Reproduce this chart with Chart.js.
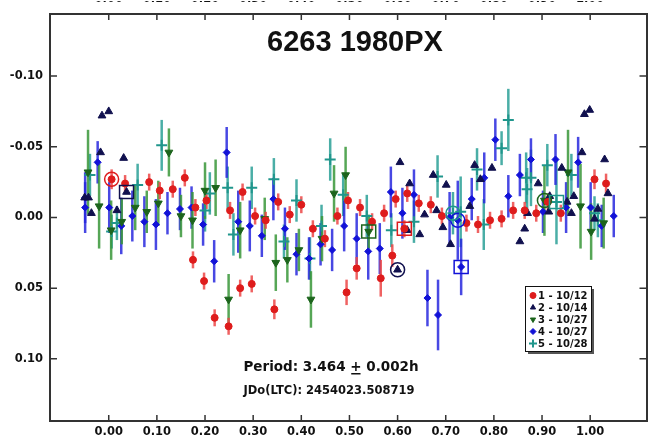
<!DOCTYPE html>
<html>
<head>
<meta charset="utf-8">
<script src="https://cdn.jsdelivr.net/npm/chart.js@4/dist/chart.umd.min.js"></script>
<style>
  body { margin: 0; background: #fff; }
  canvas { display: block; }
</style>
</head>
<body>
<canvas id="lightCurve" width="654" height="444"></canvas>
<script>
// tick labels
const xTicks = [0, 0.1, 0.2, 0.3, 0.4, 0.5, 0.6, 0.7, 0.8, 0.9, 1.0];
const yTicks = [-0.10, -0.05, 0, 0.05, 0.10];
const sessionNames = ['1 - 10/12', '2 - 10/14', '3 - 10/27', '4 - 10/27', '5 - 10/28'];

// session 1 - 10/12
const phase1 = [0.006, 0.034, 0.084, 0.106, 0.133, 0.158, 0.175, 0.180, 0.198, 0.203, 0.220, 0.249, 0.252, 0.273, 0.278, 0.297, 0.304, 0.326, 0.344, 0.352, 0.376, 0.400, 0.424, 0.449, 0.475, 0.494, 0.497, 0.515, 0.522, 0.547, 0.565, 0.572, 0.589, 0.596, 0.614, 0.620, 0.644, 0.669, 0.692, 0.743, 0.767, 0.792, 0.816, 0.840, 0.864, 0.888, 0.912, 0.939, 1.009, 1.033];
const mag1 = [-0.027, -0.024, -0.025, -0.019, -0.020, -0.028, 0.030, -0.007, 0.045, -0.012, 0.071, 0.077, -0.005, 0.050, -0.018, 0.047, -0.001, 0.002, 0.065, -0.011, -0.002, -0.009, 0.008, 0.015, -0.001, 0.053, -0.012, 0.036, -0.007, 0.003, 0.043, -0.003, 0.027, -0.013, 0.008, -0.017, -0.010, -0.009, -0.001, 0.004, 0.005, 0.002, 0.001, -0.005, -0.005, -0.003, -0.011, -0.003, -0.027, -0.024];
const err1 = [0.007, 0.006, 0.006, 0.006, 0.006, 0.006, 0.006, 0.006, 0.006, 0.006, 0.006, 0.006, 0.006, 0.006, 0.006, 0.006, 0.006, 0.006, 0.007, 0.006, 0.006, 0.006, 0.006, 0.006, 0.006, 0.009, 0.006, 0.008, 0.006, 0.006, 0.013, 0.006, 0.008, 0.006, 0.006, 0.006, 0.006, 0.006, 0.006, 0.006, 0.006, 0.006, 0.006, 0.006, 0.006, 0.006, 0.006, 0.006, 0.007, 0.007];

// session 2 - 10/14
const phase2 = [-0.050, -0.042, -0.036, -0.017, -0.014, 0.000, 0.017, 0.031, 0.037, 0.600, 0.605, 0.620, 0.625, 0.646, 0.656, 0.674, 0.681, 0.694, 0.701, 0.710, 0.750, 0.760, 0.772, 0.796, 0.854, 0.864, 0.870, 0.892, 0.914, 0.916, 0.941, 0.952, 0.961, 0.966, 0.983, 0.988, 0.999, 1.009, 1.016, 1.030, 1.037];
const mag2 = [-0.014, -0.014, -0.003, -0.046, -0.072, -0.075, -0.005, -0.042, -0.018, 0.037, -0.039, 0.009, -0.024, 0.012, -0.002, -0.030, -0.005, 0.007, -0.023, 0.019, -0.008, -0.037, -0.027, -0.035, 0.017, 0.008, -0.003, -0.024, -0.004, -0.015, -0.035, -0.011, -0.003, -0.015, -0.046, -0.073, -0.076, 0.001, -0.006, -0.041, -0.017];
const err2 = phase2.map(() => 0);

// session 3 - 10/27
const phase3 = [-0.043, -0.020, 0.005, 0.027, 0.055, 0.079, 0.103, 0.125, 0.150, 0.174, 0.200, 0.222, 0.249, 0.273, 0.324, 0.347, 0.371, 0.395, 0.420, 0.443, 0.468, 0.492, 0.540, 0.905, 0.954, 0.980, 1.002, 1.028];
const mag3 = [-0.032, -0.008, 0.009, 0.003, -0.007, -0.004, -0.010, -0.046, -0.001, 0.002, -0.019, -0.021, 0.058, 0.009, 0.001, 0.032, 0.030, 0.023, 0.058, 0.015, -0.017, -0.030, 0.010, -0.012, -0.032, -0.008, 0.010, 0.004];
const err3 = [0.030, 0.030, 0.021, 0.016, 0.016, 0.015, 0.016, 0.017, 0.015, 0.020, 0.020, 0.020, 0.018, 0.020, 0.015, 0.020, 0.016, 0.015, 0.020, 0.016, 0.020, 0.020, 0.012, 0.025, 0.030, 0.030, 0.020, 0.018];

// session 4 - 10/27
const phase4 = [-0.049, -0.049, -0.023, 0.001, 0.026, 0.049, 0.074, 0.098, 0.122, 0.148, 0.172, 0.196, 0.219, 0.245, 0.269, 0.293, 0.318, 0.342, 0.366, 0.390, 0.416, 0.440, 0.464, 0.489, 0.515, 0.539, 0.563, 0.586, 0.610, 0.634, 0.662, 0.684, 0.708, 0.725, 0.732, 0.754, 0.780, 0.803, 0.830, 0.854, 0.877, 0.902, 0.928, 0.950, 0.975, 1.001, 1.024, 1.049];
const mag4 = [-0.014, -0.007, -0.039, -0.007, 0.006, -0.001, 0.003, 0.005, -0.003, -0.006, -0.007, 0.005, 0.031, -0.046, 0.003, 0.006, 0.013, -0.013, 0.008, 0.026, 0.029, 0.019, 0.023, 0.006, 0.015, 0.024, 0.022, -0.018, -0.003, -0.016, 0.057, 0.069, 0.000, 0.002, 0.035, -0.013, -0.028, -0.055, -0.015, -0.030, -0.041, -0.004, -0.041, -0.007, -0.039, -0.007, 0.006, -0.001];
const err4 = [0.018, 0.018, 0.015, 0.018, 0.020, 0.018, 0.018, 0.018, 0.015, 0.015, 0.015, 0.015, 0.015, 0.018, 0.022, 0.018, 0.015, 0.015, 0.015, 0.015, 0.015, 0.015, 0.015, 0.018, 0.018, 0.020, 0.018, 0.018, 0.018, 0.018, 0.020, 0.025, 0.018, 0.028, 0.020, 0.015, 0.018, 0.015, 0.015, 0.015, 0.015, 0.015, 0.018, 0.018, 0.018, 0.018, 0.015, 0.015];

// session 5 - 10/28
const phase5 = [-0.039, 0.006, 0.017, 0.060, 0.110, 0.200, 0.210, 0.247, 0.259, 0.297, 0.343, 0.364, 0.390, 0.418, 0.442, 0.460, 0.487, 0.536, 0.587, 0.634, 0.683, 0.715, 0.731, 0.765, 0.779, 0.816, 0.830, 0.867, 0.869, 0.877, 0.911, 0.930, 0.961, 1.009, 1.016];
const mag5 = [-0.030, 0.010, 0.004, -0.023, -0.051, -0.005, -0.017, -0.021, 0.012, -0.021, -0.027, 0.017, -0.012, 0.029, 0.006, -0.041, -0.016, -0.001, 0.009, 0.003, -0.029, -0.003, -0.004, -0.034, 0.005, -0.049, -0.069, -0.028, -0.020, -0.028, -0.037, -0.011, -0.030, -0.003, 0.002];
const err5 = [0.015, 0.012, 0.012, 0.015, 0.018, 0.015, 0.015, 0.015, 0.015, 0.015, 0.015, 0.012, 0.015, 0.015, 0.015, 0.015, 0.015, 0.015, 0.012, 0.015, 0.015, 0.015, 0.025, 0.015, 0.018, 0.012, 0.022, 0.018, 0.015, 0.020, 0.015, 0.030, 0.015, 0.012, 0.012];

// first points of the sub-runs, ringed in the plot: [session, phase, shape]
const ringMarks = [[0, 0.006, 'circle'], [1, 0.037, 'box'], [1, 0.600, 'circle'], [0, 0.614, 'box'], [2, 0.540, 'box'], [3, 0.725, 'circle'], [3, 0.732, 'box'], [4, 0.715, 'circle'], [2, 0.905, 'circle'], [4, 0.930, 'box']];

const axisFont = { family: '"DejaVu Sans", sans-serif', size: 11.5, weight: 'bold' };
const frameColor = '#333';

function points(ph, mg) {
    return ph.map((p, i) => ({ x: p, y: mg[i] }));
}

const sessions = [
    { label: sessionNames[0], data: points(phase1, mag1), errors: err1, pointStyle: 'circle', pointRadius: 3.5,
      backgroundColor: 'rgb(222,28,28)', borderColor: 'rgb(222,28,28)', barColor: 'rgba(236,70,70,0.85)' },
    { label: sessionNames[1], data: points(phase2, mag2), errors: err2, pointStyle: 'triangle', pointRadius: 4.5,
      backgroundColor: 'rgb(16,16,78)', borderColor: 'rgb(16,16,78)', barColor: 'rgb(16,16,78)' },
    { label: sessionNames[2], data: points(phase3, mag3), errors: err3, pointStyle: 'triangle', pointRotation: 180, pointRadius: 4.5,
      backgroundColor: 'rgb(28,100,28)', borderColor: 'rgb(28,100,28)', barColor: 'rgba(56,150,56,0.85)' },
    { label: sessionNames[3], data: points(phase4, mag4), errors: err4, pointStyle: 'rectRot', pointRadius: 3.5,
      backgroundColor: 'rgb(18,18,215)', borderColor: 'rgb(18,18,215)', barColor: 'rgba(40,40,222,0.85)' },
    { label: sessionNames[4], data: points(phase5, mag5), errors: err5, pointStyle: 'cross', pointRadius: 5.5,
      backgroundColor: 'rgb(32,150,140)', borderColor: 'rgb(32,150,140)', barColor: 'rgba(42,160,150,0.85)' }
];
sessions.forEach(s => { s.pointBorderWidth = s.pointStyle === 'cross' ? 2 : 1; s.showLine = false; });

// vertical error bars, drawn under the markers
const errorBars = {
    id: 'errorBars',
    beforeDatasetsDraw(chart) {
        const { ctx, scales: { x, y } } = chart;
        ctx.save();
        ctx.lineWidth = 2.5;
        for (let i = chart.data.datasets.length - 1; i >= 0; i--) {
            const ds = chart.data.datasets[i];
            ctx.strokeStyle = ds.barColor;
            ds.errors.forEach((e, j) => {
                if (!e) return;
                const p = ds.data[j];
                const px = x.getPixelForValue(p.x);
                ctx.beginPath();
                ctx.moveTo(px, y.getPixelForValue(p.y - e));
                ctx.lineTo(px, y.getPixelForValue(p.y + e));
                ctx.stroke();
            });
        }
        ctx.restore();
    }
};

// rings and boxes around marked points, inward ticks, title, notes, legend
const decorations = {
    id: 'decorations',
    afterDraw(chart) {
        const { ctx, chartArea: a, scales: { x, y } } = chart;
        ctx.save();

        // marked points
        ctx.lineWidth = 1.5;
        ringMarks.forEach(([s, ph, shape]) => {
            const ds = chart.data.datasets[s];
            let best = ds.data[0];
            ds.data.forEach(p => { if (Math.abs(p.x - ph) < Math.abs(best.x - ph)) best = p; });
            const px = x.getPixelForValue(best.x), py = y.getPixelForValue(best.y);
            ctx.strokeStyle = ds.borderColor;
            ctx.beginPath();
            if (shape === 'circle') ctx.arc(px, py, 7, 0, Math.PI * 2);
            else ctx.rect(px - 7, py - 6.5, 14, 13);
            ctx.stroke();
        });

        // ticks pointing into the frame
        ctx.strokeStyle = frameColor;
        ctx.lineWidth = 1.5;
        ctx.beginPath();
        xTicks.forEach(v => {
            const px = x.getPixelForValue(v);
            ctx.moveTo(px, a.bottom); ctx.lineTo(px, a.bottom - 6);
            ctx.moveTo(px, a.top); ctx.lineTo(px, a.top + 6);
        });
        yTicks.forEach(v => {
            const py = y.getPixelForValue(v);
            ctx.moveTo(a.left, py); ctx.lineTo(a.left + 7, py);
            ctx.moveTo(a.right, py); ctx.lineTo(a.right - 7, py);
        });
        ctx.stroke();

        // title
        ctx.fillStyle = '#111';
        ctx.textAlign = 'center';
        ctx.textBaseline = 'middle';
        ctx.font = 'bold 29px "Liberation Sans", Arial, sans-serif';
        ctx.fillText('6263 1980PX', 355, 43);

        // period note, with the underlined plus sign
        ctx.font = 'bold 13.5px "DejaVu Sans", sans-serif';
        ctx.textAlign = 'left';
        const partA = 'Period: 3.464 ', partB = '+', partC = ' 0.002h';
        const wA = ctx.measureText(partA).width, wB = ctx.measureText(partB).width, wC = ctx.measureText(partC).width;
        let tx = 331 - (wA + wB + wC) / 2;
        ctx.fillText(partA, tx, 367);
        ctx.fillText(partB, tx + wA, 367);
        ctx.fillText(partC, tx + wA + wB, 367);
        ctx.fillRect(tx + wA + 1, 373, wB - 2, 1.5);

        ctx.textAlign = 'center';
        ctx.font = 'bold 11.5px "DejaVu Sans", sans-serif';
        ctx.fillText('JDo(LTC): 2454023.508719', 329, 391);

        // legend box with shadow
        const lx = 525, ly = 286, lw = 66, lh = 65;
        ctx.fillStyle = '#555';
        ctx.fillRect(lx + 3, ly + 3, lw, lh);
        ctx.fillStyle = '#fff';
        ctx.fillRect(lx, ly, lw, lh);
        ctx.strokeStyle = '#111';
        ctx.lineWidth = 1;
        ctx.strokeRect(lx + 0.5, ly + 0.5, lw, lh);
        ctx.font = 'bold 10px "DejaVu Sans", sans-serif';
        ctx.textAlign = 'left';
        chart.data.datasets.forEach((ds, i) => {
            const ry = ly + 9.5 + i * 12;
            ctx.fillStyle = ds.backgroundColor;
            ctx.strokeStyle = ds.borderColor;
            ctx.lineWidth = ds.pointStyle === 'cross' ? 2 : 1;
            Chart.helpers.drawPoint(ctx, {
                pointStyle: ds.pointStyle, radius: ds.pointStyle === 'cross' ? 4 : 3,
                rotation: ds.pointRotation || 0, borderWidth: ctx.lineWidth
            }, lx + 8, ry);
            ctx.fillStyle = '#111';
            ctx.fillText(ds.label, lx + 13, ry + 0.5);
        });
        ctx.restore();
    }
};

const xAxisBase = {
    type: 'linear', min: -0.122, max: 1.117,
    grid: { display: false, drawTicks: false },
    border: { color: frameColor, width: 2 },
    afterBuildTicks: s => { s.ticks = xTicks.map(v => ({ value: v })); },
    ticks: { font: axisFont, color: '#111', maxRotation: 0, autoSkip: false, callback: v => v.toFixed(2) }
};

new Chart(document.getElementById('lightCurve'), {
    type: 'scatter',
    data: { datasets: sessions },
    options: {
        responsive: false,
        animation: false,
        devicePixelRatio: 1,
        layout: { padding: 0 },
        plugins: { legend: { display: false }, tooltip: { enabled: false } },
        scales: {
            x: { ...xAxisBase, position: 'bottom', ticks: { ...xAxisBase.ticks, padding: 4 },
                 afterFit: s => { s.height = 23; } },
            x2: { ...xAxisBase, position: 'top', ticks: { ...xAxisBase.ticks, padding: 8 },
                  afterFit: s => { s.height = 13; } },
            y: {
                type: 'linear', position: 'left', reverse: true, min: -0.144, max: 0.144,
                grid: { display: false, drawTicks: false },
                border: { color: frameColor, width: 2 },
                afterBuildTicks: s => { s.ticks = yTicks.map(v => ({ value: v })); },
                ticks: { font: axisFont, color: '#111', padding: 7, callback: v => v.toFixed(2) },
                afterFit: s => { s.width = 50; }
            },
            y2: {
                type: 'linear', position: 'right', reverse: true, min: -0.144, max: 0.144,
                grid: { display: false, drawTicks: false },
                border: { color: frameColor, width: 2 },
                ticks: { display: false },
                afterFit: s => { s.width = 6; }
            }
        }
    },
    plugins: [errorBars, decorations]
});
</script>
</body>
</html>
